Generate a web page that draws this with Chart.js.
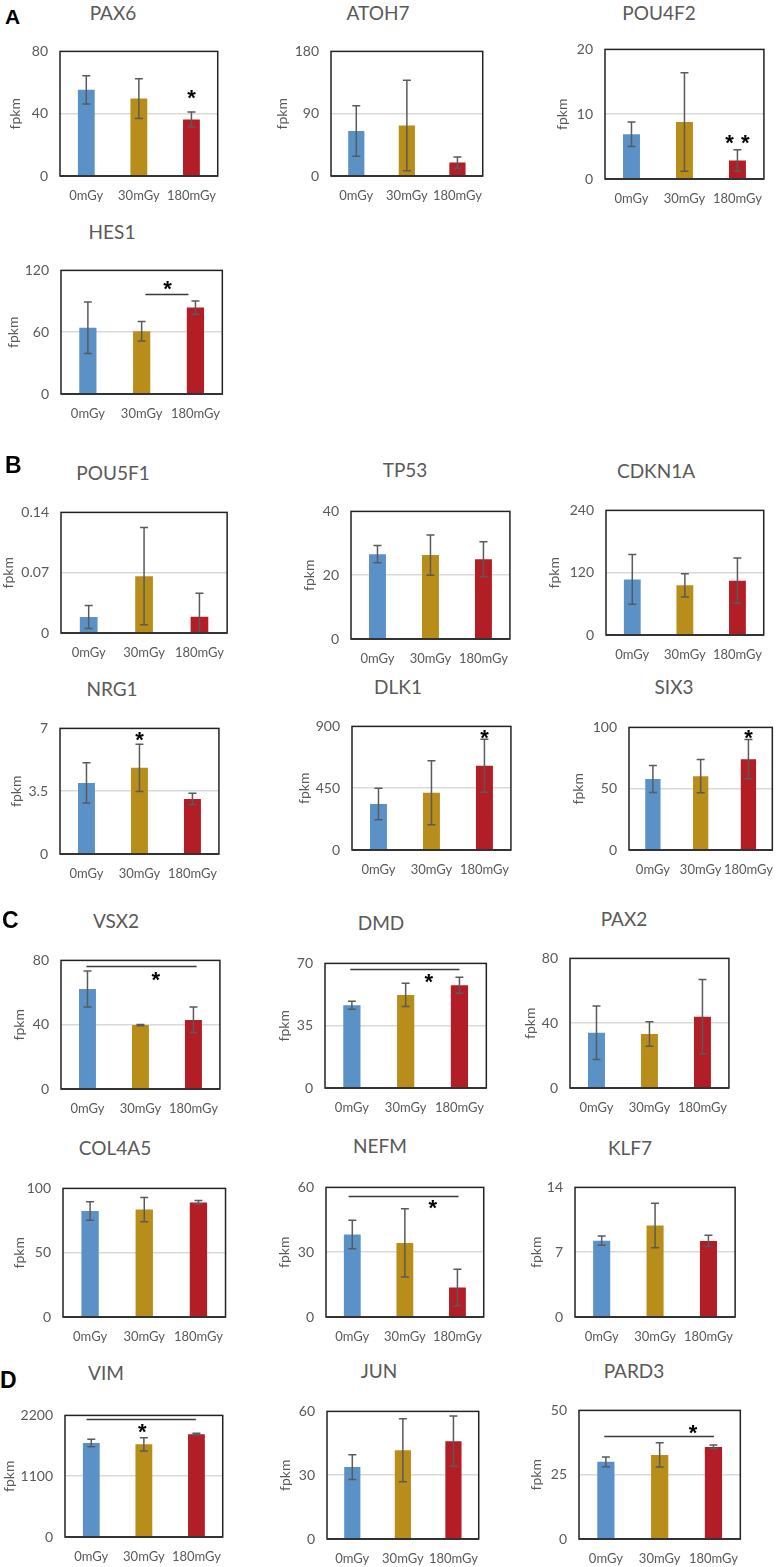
<!DOCTYPE html>
<html><head><meta charset="utf-8">
<script src="https://cdn.jsdelivr.net/npm/chart.js@4"></script>
<style>
html,body{margin:0;padding:0;background:#fff;}
body{width:782px;height:1567px;position:relative;overflow:hidden;font-family:Lato,'Noto Sans',sans-serif;}
.t{position:absolute;font-family:Lato,'Noto Sans',sans-serif;font-size:19px;color:#595959;transform:translate(-50%,-50%);white-space:nowrap;line-height:1;}
.L{position:absolute;font-family:'Liberation Sans',Arial,sans-serif;font-weight:bold;color:#000;line-height:1;}
canvas{position:absolute;}
</style></head><body>
<script>
// ---------------- DATA ----------------
const CATEGORIES = ['0mGy', '30mGy', '180mGy'];

const PAX6_MEAN = [55.3, 49.7, 36.3];   const PAX6_ERR = [9.0, 12.8, 4.8];    const PAX6_TICKS = [0, 40, 80];
const ATOH7_MEAN = [65, 73, 19.4];      const ATOH7_ERR = [36.5, 65.5, 8.1];  const ATOH7_TICKS = [0, 90, 180];
const POU4F2_MEAN = [6.9, 8.8, 2.85];   const POU4F2_ERR = [1.9, 7.6, 1.65];  const POU4F2_TICKS = [0, 10, 20];
const HES1_MEAN = [64.3, 61, 83.9];     const HES1_ERR = [25, 9.5, 6.5];      const HES1_TICKS = [0, 60, 120];
const POU5F1_MEAN = [0.0185, 0.066, 0.019]; const POU5F1_ERR = [0.0133, 0.0565, 0.027]; const POU5F1_TICKS = [0, 0.07, 0.14];
const TP53_MEAN = [26.6, 26.3, 25.0];   const TP53_ERR = [2.7, 6.3, 5.5];     const TP53_TICKS = [0, 20, 40];
const CDKN1A_MEAN = [107, 95.7, 104.7]; const CDKN1A_ERR = [48, 22.5, 43.4];  const CDKN1A_TICKS = [0, 120, 240];
const NRG1_MEAN = [3.96, 4.8, 3.07];    const NRG1_ERR = [1.12, 1.32, 0.31];  const NRG1_TICKS = [0, 3.5, 7];
const DLK1_MEAN = [335, 417, 613];      const DLK1_ERR = [114, 233, 193];     const DLK1_TICKS = [0, 450, 900];
const SIX3_MEAN = [57.9, 60.2, 74.1];   const SIX3_ERR = [11, 13.6, 16];      const SIX3_TICKS = [0, 50, 100];
const VSX2_MEAN = [62.2, 39.8, 43];     const VSX2_ERR = [11.2, 0.4, 8];      const VSX2_TICKS = [0, 40, 80];
const DMD_MEAN = [46.5, 52.3, 57.7];    const DMD_ERR = [2.2, 6.5, 4.5];      const DMD_TICKS = [0, 35, 70];
const PAX2_MEAN = [34.1, 33.3, 44];     const PAX2_ERR = [16.5, 7.6, 23];     const PAX2_TICKS = [0, 40, 80];
const COL4A5_MEAN = [82.5, 83.5, 89.1]; const COL4A5_ERR = [7.2, 9.5, 1.5];   const COL4A5_TICKS = [0, 50, 100];
const NEFM_MEAN = [38.2, 34.3, 13.6];   const NEFM_ERR = [6.6, 15.8, 8.5];    const NEFM_TICKS = [0, 30, 60];
const KLF7_MEAN = [8.25, 9.88, 8.22];   const KLF7_ERR = [0.5, 2.4, 0.6];     const KLF7_TICKS = [0, 7, 14];
const VIM_MEAN = [1699, 1676, 1861];    const VIM_ERR = [68, 121, 17];        const VIM_TICKS = [0, 1100, 2200];
const JUN_MEAN = [33.8, 41.7, 46];      const JUN_ERR = [5.8, 14.8, 11.8];    const JUN_TICKS = [0, 30, 60];
const PARD3_MEAN = [30, 32.7, 35.8];    const PARD3_ERR = [1.9, 4.7, 0.75];   const PARD3_TICKS = [0, 25, 50];

// significance marks: stars [categoryPosition, value], lines [fromCat, toCat, value]
const PAX6_STARS = [[2, 52.2]];
const POU4F2_STARS = [[1.85, 6.1], [2.15, 6.1]];
const HES1_STARS = [[1.48, 105]];  const HES1_LINES = [[1.07, 1.87, 97]];
const NRG1_STARS = [[1, 6.53]];
const DLK1_STARS = [[2, 843]];
const SIX3_STARS = [[2, 94]];
const VSX2_STARS = [[1.29, 70]];   const VSX2_LINES = [[-0.02, 2.06, 76.6]];
const DMD_STARS = [[1.43, 61.4]];  const DMD_LINES = [[-0.03, 2.0, 67]];
const NEFM_STARS = [[1.53, 51.9]]; const NEFM_LINES = [[-0.07, 2.02, 56]];
const VIM_STARS = [[0.97, 1963]];  const VIM_LINES = [[-0.09, 1.99, 2132]];
const PARD3_STARS = [[1.62, 42.5]]; const PARD3_LINES = [[-0.03, 2.01, 40.2]];

// ---------------- STYLE / LAYOUT ----------------
const BAR_COLORS = ['#5A92C8', '#B88D19', '#B21D26'];
const TXT = '#595959';
Chart.defaults.font.family = "Lato, 'Noto Sans', sans-serif";

const PANELS = [
  {g:'PAX6',   box:[60,43,223,176],    title:[113,12],    fx:15,  d:[PAX6_MEAN,PAX6_ERR,PAX6_TICKS,PAX6_STARS,[]]},
  {g:'ATOH7',  box:[331,43,489,176],   title:[378,12],    fx:282, d:[ATOH7_MEAN,ATOH7_ERR,ATOH7_TICKS,[],[]]},
  {g:'POU4F2', box:[605,41,769,179],   title:[659,12],    fx:562, d:[POU4F2_MEAN,POU4F2_ERR,POU4F2_TICKS,POU4F2_STARS,[]]},
  {g:'HES1',   box:[61,262,227,394],   title:[112,231],   fx:13,  d:[HES1_MEAN,HES1_ERR,HES1_TICKS,HES1_STARS,HES1_LINES]},
  {g:'POU5F1', box:[61,504,231,633],   title:[113,472],   fx:8,   d:[POU5F1_MEAN,POU5F1_ERR,POU5F1_TICKS,[],[]]},
  {g:'TP53',   box:[351,503,515,639],  title:[405,469],   fx:309, d:[TP53_MEAN,TP53_ERR,TP53_TICKS,[],[]]},
  {g:'CDKN1A', box:[606,502,769,635],  title:[656,470],   fx:554, d:[CDKN1A_MEAN,CDKN1A_ERR,CDKN1A_TICKS,[],[]]},
  {g:'NRG1',   box:[60,720,224,854],   title:[112,688],   fx:16,  d:[NRG1_MEAN,NRG1_ERR,NRG1_TICKS,NRG1_STARS,[]]},
  {g:'DLK1',   box:[352,718,516,850],  title:[398,686],   fx:304, d:[DLK1_MEAN,DLK1_ERR,DLK1_TICKS,DLK1_STARS,[]]},
  {g:'SIX3',   box:[629,719,780,850],  title:[674,686],   fx:578, d:[SIX3_MEAN,SIX3_ERR,SIX3_TICKS,SIX3_STARS,[]]},
  {g:'VSX2',   box:[61,952,225,1089],  title:[116,920],   fx:19,  d:[VSX2_MEAN,VSX2_ERR,VSX2_TICKS,VSX2_STARS,VSX2_LINES]},
  {g:'DMD',    box:[325,955,491,1088], title:[381,922],   fx:284, d:[DMD_MEAN,DMD_ERR,DMD_TICKS,DMD_STARS,DMD_LINES]},
  {g:'PAX2',   box:[570,950,734,1088], title:[624,918],   fx:530, d:[PAX2_MEAN,PAX2_ERR,PAX2_TICKS,[],[]]},
  {g:'COL4A5', box:[63,1180,230,1317], title:[115,1147],  fx:19,  d:[COL4A5_MEAN,COL4A5_ERR,COL4A5_TICKS,[],[]]},
  {g:'NEFM',   box:[326,1179,489,1317],title:[380,1145],  fx:284, d:[NEFM_MEAN,NEFM_ERR,NEFM_TICKS,NEFM_STARS,NEFM_LINES]},
  {g:'KLF7',   box:[575,1179,740,1317],title:[630,1147],  fx:536, d:[KLF7_MEAN,KLF7_ERR,KLF7_TICKS,[],[]]},
  {g:'VIM',    box:[65,1407,228,1537], title:[106,1372],  fx:9,   d:[VIM_MEAN,VIM_ERR,VIM_TICKS,VIM_STARS,VIM_LINES]},
  {g:'JUN',    box:[327,1403,485,1539],title:[379,1370],  fx:285, d:[JUN_MEAN,JUN_ERR,JUN_TICKS,[],[]]},
  {g:'PARD3',  box:[579,1402,745,1539],title:[634,1370],  fx:536, d:[PARD3_MEAN,PARD3_ERR,PARD3_TICKS,PARD3_STARS,PARD3_LINES]}
];

const LETTERS = [['A',5,6,21],['B',5,454,23],['C',2,909,23],['D',0,1369,23]];

function addDiv(cls, text, x, y, extra) {
  const d = document.createElement('div');
  d.className = cls; d.textContent = text;
  d.style.left = x + 'px'; d.style.top = y + 'px';
  if (extra) Object.assign(d.style, extra);
  document.body.appendChild(d);
}

function catPx(xs, f) {
  const p0 = xs.getPixelForValue(0), p1 = xs.getPixelForValue(1);
  return p0 + f * (p1 - p0);
}

function makeChart(P) {
  const [mean, err, ticks, stars, lines] = P.d;
  const [bl, bt, br, bb] = P.box;
  const padTop = 12, padRight = 6, xH = 34;
  const cl = Math.round(P.fx - 8.4);
  const yW = bl - cl;
  const ct = bt - padTop;
  const w = br - cl + padRight;
  const h = bb - ct + xH;
  const cv = document.createElement('canvas');
  cv.width = w; cv.height = h;
  cv.style.left = cl + 'px'; cv.style.top = ct + 'px';
  cv.style.width = w + 'px'; cv.style.height = h + 'px';
  document.body.appendChild(cv);
  const mid = ticks[1];

  const extras = {
    id: 'extras',
    afterDatasetsDraw(chart) {
      const ctx = chart.ctx, a = chart.chartArea;
      const ys = chart.scales.y, xs = chart.scales.x;
      const meta = chart.getDatasetMeta(0);
      ctx.save();
      // error bars
      ctx.strokeStyle = '#5a5a5a'; ctx.lineWidth = 1.5;
      meta.data.forEach((bar, i) => {
        const x = bar.x;
        const hi = ys.getPixelForValue(mean[i] + err[i]);
        const loRaw = ys.getPixelForValue(mean[i] - err[i]);
        const lo = Math.min(loRaw, a.bottom);
        ctx.beginPath();
        ctx.moveTo(x, hi); ctx.lineTo(x, lo);
        ctx.moveTo(x - 4, hi); ctx.lineTo(x + 4, hi);
        if (loRaw <= a.bottom) { ctx.moveTo(x - 4, lo); ctx.lineTo(x + 4, lo); }
        ctx.stroke();
      });
      // box
      ctx.strokeStyle = '#222'; ctx.lineWidth = 1.5;
      ctx.strokeRect(a.left, a.top, a.right - a.left, a.bottom - a.top);
      ctx.strokeStyle = '#333'; ctx.lineWidth = 2;
      ctx.beginPath(); ctx.moveTo(a.left, a.bottom); ctx.lineTo(a.right, a.bottom); ctx.stroke();
      // significance lines
      ctx.strokeStyle = '#3a3a3a'; ctx.lineWidth = 1.5;
      lines.forEach(([f0, f1, v]) => {
        const y = Math.round(ys.getPixelForValue(v)) + 0.5;
        ctx.beginPath(); ctx.moveTo(catPx(xs, f0), y); ctx.lineTo(catPx(xs, f1), y); ctx.stroke();
      });
      // stars
      ctx.fillStyle = '#000';
      ctx.font = "bold 22px 'Liberation Sans', Arial, sans-serif";
      ctx.textAlign = 'center'; ctx.textBaseline = 'alphabetic';
      const m = ctx.measureText('*');
      const off = (m.actualBoundingBoxAscent - m.actualBoundingBoxDescent) / 2;
      stars.forEach(([f, v]) => {
        ctx.fillText('*', catPx(xs, f), ys.getPixelForValue(v) + off);
      });
      ctx.restore();
    }
  };

  new Chart(cv, {
    type: 'bar',
    data: {
      labels: CATEGORIES,
      datasets: [{ data: mean, backgroundColor: BAR_COLORS, borderWidth: 0,
                   barPercentage: 0.32, categoryPercentage: 1 }]
    },
    options: {
      responsive: false, animation: false, devicePixelRatio: 1,
      layout: { padding: { top: padTop, right: padRight, left: 0, bottom: 0 } },
      plugins: { legend: { display: false }, tooltip: { enabled: false }, title: { display: false } },
      scales: {
        x: {
          grid: { display: false, drawTicks: false },
          border: { display: false },
          ticks: { color: TXT, font: { size: 13 }, padding: 12, maxRotation: 0, autoSkip: false },
          afterFit: s => { s.height = xH; }
        },
        y: {
          min: ticks[0], max: ticks[ticks.length - 1],
          afterBuildTicks: s => { s.ticks = ticks.map(v => ({ value: v })); },
          ticks: { color: TXT, font: { size: 14 }, padding: 12, callback: v => String(v) },
          grid: { drawTicks: false, lineWidth: 1.5,
                  color: c => (c.tick && c.tick.value === mid) ? '#d9d9d9' : 'rgba(0,0,0,0)' },
          border: { display: false },
          title: { display: true, text: 'fpkm', color: TXT, font: { size: 14 }, padding: 0 },
          afterFit: s => { s.width = yW; }
        }
      }
    },
    plugins: [extras]
  });

  addDiv('t', P.g, P.title[0], P.title[1]);
}

PANELS.forEach(makeChart);
LETTERS.forEach(([t, x, y, s]) => addDiv('L', t, x, y, { fontSize: s + 'px' }));
</script>
</body></html>
